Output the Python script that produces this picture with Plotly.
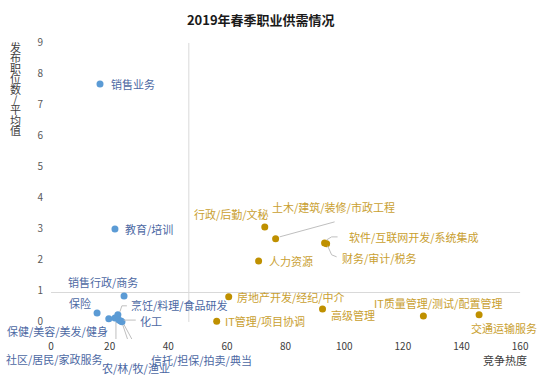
import plotly.graph_objects as go

# ---------------- data ----------------
blue_names = ["销售业务", "教育/培训", "销售行政/商务", "保险", "保健/美容/美发/健身",
              "社区/居民/家政服务", "烹饪/料理/食品研发", "化工", "农/林/牧/渔业", "信托/担保/拍卖/典当"]
blue_x = [16.7, 21.8, 24.9, 15.7, 19.7, 21.8, 22.8, 23.1, 23.8, 24.2]
blue_y = [7.68, 3.0, 0.84, 0.29, 0.10, 0.13, 0.23, 0.06, 0.03, 0.01]

gold_names = ["行政/后勤/文秘", "土木/建筑/装修/市政工程", "软件/互联网开发/系统集成", "财务/审计/税务",
              "人力资源", "房地产开发/经纪/中介", "IT管理/项目协调", "高级管理",
              "IT质量管理/测试/配置管理", "交通运输服务"]
gold_x = [72.9, 76.6, 93.3, 94.0, 70.8, 60.6, 56.5, 92.6, 127.0, 146.0]
gold_y = [3.06, 2.68, 2.55, 2.52, 1.97, 0.81, 0.02, 0.42, 0.19, 0.23]

x_ticks = [0, 20, 40, 60, 80, 100, 120, 140, 160]
y_ticks = [0, 1, 2, 3, 4, 5, 6, 7, 8, 9]
x_cross = 47
y_cross = 0.95

title_text = "2019年春季职业供需情况"
x_title = "竞争热度"
y_title = "发布职位数/平均值"

# ---------------- styles ----------------
FONT = "Noto Sans CJK SC"
BLUE = "#5B9BD5"
GOLD = "#BF9000"
BLUE_TXT = "#4C68A3"
GOLD_TXT = "#C9A030"
LEADER = "#BFBFBF"

# label placement: (xanchor, xshift px, yshift px (up))
label_pos = {
    "销售业务": ("left", 9, 0),
    "教育/培训": ("left", 8, 0),
    "销售行政/商务": ("center", -21, 14),
    "保险": ("center", -17, 10),
    "保健/美容/美发/健身": ("center", -51, -12),
    "社区/居民/家政服务": ("center", -60, -41),
    "烹饪/料理/食品研发": ("left", 11, 10),
    "化工": ("left", 19, -1),
    "农/林/牧/渔业": ("center", 15, -47),
    "信托/担保/拍卖/典当": ("left", 27, -38),
    "行政/后勤/文秘": ("center", -33, 13),
    "土木/建筑/装修/市政工程": ("center", 58, 32),
    "软件/互联网开发/系统集成": ("left", 22, 6),
    "财务/审计/税务": ("left", 13, -14),
    "人力资源": ("left", 8, 0),
    "房地产开发/经纪/中介": ("left", 6, 0),
    "IT管理/项目协调": ("left", 6, 0),
    "高级管理": ("left", 6, -6),
    "IT质量管理/测试/配置管理": ("center", 15, 13),
    "交通运输服务": ("center", 25, -13),
}

# leader lines: pixel offsets (dx right, dy down) from the point
leaders = {
    "社区/居民/家政服务": [(-2, 41), (1, 41), (1, 4)],
    "烹饪/料理/食品研发": [(9, -9), (4, -9), (2, -3)],
    "化工": [(17, 0), (5, 0)],
    "农/林/牧/渔业": [(2, 4), (14, 40)],
    "信托/担保/拍卖/典当": [(2, 3), (21, 38), (25, 38)],
    "土木/建筑/装修/市政工程": [(4, -2), (59, -17)],
    "软件/互联网开发/系统集成": [(2, -3), (7, -6), (13, -6)],
    "财务/审计/税务": [(1, 2), (5, 11), (10, 13)],
}

fig = go.Figure()
fig.add_trace(go.Scatter(x=blue_x, y=blue_y, mode="markers", name="供不应求",
                         marker=dict(color=BLUE, size=7), hoverinfo="text", text=blue_names))
fig.add_trace(go.Scatter(x=gold_x, y=gold_y, mode="markers", name="供过于求",
                         marker=dict(color=GOLD, size=7), hoverinfo="text", text=gold_names))

annotations = []
shapes = []

# quadrant lines
shapes.append(dict(type="line", xref="x", yref="y", x0=x_cross, x1=x_cross, y0=0, y1=9,
                   line=dict(color="#D9D9D9", width=1), layer="below"))
shapes.append(dict(type="line", xref="x", yref="y", x0=0, x1=160, y0=y_cross, y1=y_cross,
                   line=dict(color="#D9D9D9", width=1), layer="below"))

for names, xs, ys, col in [(blue_names, blue_x, blue_y, BLUE_TXT), (gold_names, gold_x, gold_y, GOLD_TXT)]:
    for n, xv, yv in zip(names, xs, ys):
        anc, xs_, ys_ = label_pos[n]
        annotations.append(dict(x=xv, y=yv, xref="x", yref="y", text=n, showarrow=False,
                                xanchor=anc, yanchor="middle", xshift=xs_, yshift=ys_,
                                font=dict(family=FONT, size=11, color=col)))
        if n in leaders:
            pts = leaders[n]
            path = "M " + " L ".join(f"{dx},{-dy}" for dx, dy in pts)
            shapes.append(dict(type="path", xref="x", yref="y", xsizemode="pixel", ysizemode="pixel",
                               xanchor=xv, yanchor=yv, path=path,
                               line=dict(color=LEADER, width=1)))

# x-axis title
annotations.append(dict(x=0.956, y=-0.07, xref="paper", yref="paper", text=x_title, showarrow=False,
                        xanchor="center", yanchor="middle",
                        font=dict(family=FONT, size=11, color="#404040")))
# y-axis title, stacked characters
for i, ch in enumerate(y_title):
    py = 47 + i * 10.4
    annotations.append(dict(x=-0.060, y=(339 - py) / 301, xref="paper", yref="paper", text=ch,
                            showarrow=False, xanchor="center", yanchor="middle",
                            font=dict(family=FONT, size=11, color="#404040")))

fig.update_layout(
    width=541, height=381,
    margin=dict(l=44, r=15, t=38, b=42),
    paper_bgcolor="white", plot_bgcolor="white",
    showlegend=False,
    title=dict(text=f"<b>{title_text}</b>", x=0.482, y=0.947, xanchor="center", yanchor="middle",
               font=dict(family=FONT, size=13, color="#1a1a1a")),
    xaxis=dict(range=[-2.4, 162], tickvals=x_ticks, showgrid=False, zeroline=False, showline=False,
               ticks="", tickfont=dict(family=FONT, size=10, color="#404040")),
    yaxis=dict(range=[-0.55, 9.16], tickvals=y_ticks, showgrid=False, zeroline=False, showline=False,
               ticks="", tickfont=dict(family=FONT, size=10, color="#595959")),
    annotations=annotations,
    shapes=shapes,
)

fig.write_html("out.html", config={"displayModeBar": False},
               post_script="document.body.style.margin='0';")
